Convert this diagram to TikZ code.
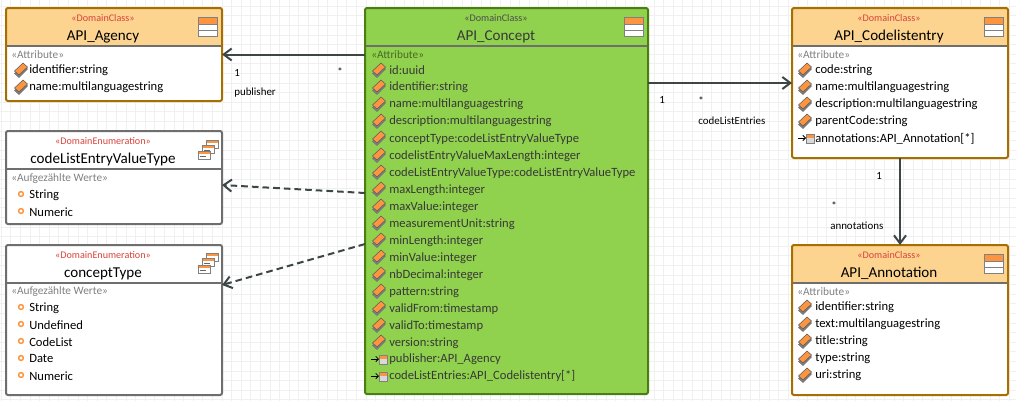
\documentclass[tikz,border=0pt]{standalone}
\usepackage{fontspec}
\setmainfont{Carlito}
\usetikzlibrary{arrows.meta,positioning}
\definecolor{headerorange}{HTML}{FCD38F}
\definecolor{conceptgreen}{HTML}{90D24E}
\definecolor{classborder}{HTML}{A66F00}
\definecolor{conceptborder}{HTML}{4A7D12}
\definecolor{enumborder}{HTML}{6E6E6E}
\definecolor{iconorange}{HTML}{FD9440}
\definecolor{stereored}{HTML}{D8433A}
\definecolor{linkgrey}{HTML}{3C4646}
\tikzset{
  umlbox/.style={rounded corners=1.5pt, line width=1.5pt, outer sep=0pt, minimum width=162pt, inner sep=0pt,
    path picture={
      \fill[#1] (path picture bounding box.north west) rectangle ([yshift=-28.5pt]path picture bounding box.north east);
      \draw[enumborder, line width=1.5pt] ([yshift=-28.5pt]path picture bounding box.north west) -- ([yshift=-28.5pt]path picture bounding box.north east);
    }},
  classbox/.style={umlbox=headerorange, draw=classborder, fill=white},
  enumbox/.style={umlbox=white, draw=enumborder, fill=white},
  conceptbox/.style={umlbox=conceptgreen, draw=conceptborder, fill=conceptgreen, minimum width=212.25pt},
  stereo/.style={font=\fontsize{7.6}{9}\selectfont, text=stereored, inner sep=0pt, yshift=-0.3pt},
  boxtitle/.style={font=\fontsize{11.3}{13}\selectfont, inner sep=0pt, yshift=-1.1pt},
  compartment/.style={font=\fontsize{8.5}{10}\selectfont, text=gray, anchor=west, inner sep=0pt, yshift=-0.3pt},
  rowtext/.style={font=\fontsize{9.45}{11}\selectfont, anchor=west, inner sep=0pt, yshift=-0.6pt},
  greenrow/.style={rowtext, text=black!78},
  linklabel/.style={font=\fontsize{8.2}{9}\selectfont, anchor=west, inner sep=0pt, yshift=-0.4pt},
  assoc/.style={linkgrey, line width=1.5pt, -{Straight Barb[length=6pt,width=9pt]}},
  depend/.style={assoc, dashed, dash pattern=on 5pt off 3pt},
  attricon/.pic={
    \filldraw[fill=gray, draw=black!55, line width=0.4pt] (-6.5,3.5) -- (2,-5) -- (6.5,-1) -- (-2,7.5) -- cycle;
    \filldraw[fill=iconorange, draw=black!65, line width=0.4pt] (-6.5,1) -- (2,-7) -- (6.5,-3) -- (-2,5) -- cycle;
  },
  enumicon/.pic={
    \draw[iconorange, line width=1.1pt, fill=white] (0,0) circle [radius=2.4];
  },
  classicon/.pic={
    \fill[white] (0,0) rectangle (19,19);
    \fill[iconorange] (0,0) rectangle (19,7);
    \draw[gray, line width=0.6pt] (0,0) rectangle (19,19);
    \draw[gray, line width=0.6pt] (0,7) -- (19,7);
    \draw[gray, line width=0.6pt] (0,13) -- (19,13);
  },
  windowicon/.pic={
    \fill[white] (0,0) rectangle (12,8.5);
    \fill[iconorange] (0,0) rectangle (12,2.5);
    \draw[gray, line width=0.6pt] (0,0) rectangle (12,8.5);
    \draw[black!60, line width=0.4pt] (2,5) -- (8,5);
  },
  linkicon/.pic={
    \draw[black, line width=0.6pt, -{Straight Barb[length=2pt,width=4pt]}] (-8,0) -- (0,0);
    \fill[white!85!black] (0,-4) rectangle (8,5);
    \fill[iconorange] (0,-4) rectangle (8,0);
    \draw[gray, line width=0.5pt] (0,-4) rectangle (8,5);
  }
}
\begin{document}
\begin{tikzpicture}[x=0.75pt, y=-0.75pt]
  \useasboundingbox (0, 0) rectangle (1016, 400);
  % grid behind the boxes
  \draw[black!6, line width=0.4pt, step=7.2pt, shift={(1, 6)}] (-10, -10) grid (1016, 400);

  % left column
  \node[classbox, minimum height=69.75pt] (agency) at (114, 54.5) {};
  \node[enumbox, minimum height=69.75pt] (valuetype) at (114, 177.5) {};
  \node[enumbox, minimum height=112.5pt] (concepttype) at (114, 320) {};

  % middle
  \node[conceptbox, minimum height=289.5pt] (concept) at (506.5, 201) {};

  % right column
  \node[classbox, minimum height=112.5pt] (codelist) at (900, 83) {};
  \node[classbox, minimum height=112.5pt] (annotation) at (900, 320) {};

  % connectors
  \coordinate (valuefrom) at (365, 193);
  \coordinate (valueto) at (222, 185);
  \coordinate (typefrom) at (365, 244);
  \coordinate (typeto) at (222, 285);
  \draw[assoc] (concept.west |- agency.east) -- (agency.east);
  \draw[depend] (valuefrom) -- (valueto);
  \draw[depend] (typefrom) -- (typeto);
  \draw[assoc] (concept.east |- codelist.west) -- (codelist.west);
  \draw[assoc] (codelist.south) -- (annotation.north);

  % connector labels
  \node[linklabel] (pubone) at (234, 72) {1};
  \node[linklabel] (pubstar) at (337, 71) {*};
  \node[linklabel] (pubname) at (234, 92) {publisher};
  \node[linklabel] (entone) at (659, 99) {1};
  \node[linklabel] (entstar) at (698, 100) {*};
  \node[linklabel] (entname) at (698, 120) {codeListEntries};
  \node[linklabel] (annone) at (876, 175) {1};
  \node[linklabel] (annstar) at (831, 205) {*};
  \node[linklabel] (annname) at (830, 225) {annotations};

  % API_Agency
  \node[stereo] (agencystereo) at (103, 18) {«DomainClass»};
  \node[boxtitle] (agencytitle) at (103, 35) {API\_Agency};
  \pic at (198, 17) {classicon};
  \node[compartment] (agencyattr) at (11, 54) {«Attribute»};
  \pic at (21, 70) {attricon};
  \node[rowtext] (agencyid) at (29, 69) {identifier:string};
  \pic at (21, 87) {attricon};
  \node[rowtext] (agencyname) at (29, 86) {name:multilanguagestring};

  % codeListEntryValueType
  \node[stereo] (valuestereo) at (103, 141) {«DomainEnumeration»};
  \node[boxtitle] (valuetitle) at (103, 158) {codeListEntryValueType};
  \pic at (206, 140) {windowicon};
  \pic at (202, 145) {windowicon};
  \pic at (198, 151) {windowicon};
  \node[compartment] (valueattr) at (11, 178) {«Aufgezählte Werte»};
  \pic at (21, 194) {enumicon};
  \node[rowtext] (valuestring) at (29, 194) {String};
  \pic at (21, 211) {enumicon};
  \node[rowtext] (valuenumeric) at (29, 211) {Numeric};

  % conceptType
  \node[stereo] (typestereo) at (103, 255) {«DomainEnumeration»};
  \node[boxtitle] (typetitle) at (103, 272) {conceptType};
  \pic at (206, 253) {windowicon};
  \pic at (202, 258) {windowicon};
  \pic at (198, 265) {windowicon};
  \node[compartment] (typeattr) at (11, 291) {«Aufgezählte Werte»};
  \pic at (21, 307) {enumicon};
  \node[rowtext] (typestring) at (29, 307) {String};
  \pic at (21, 324) {enumicon};
  \node[rowtext] (typeundefined) at (29, 324) {Undefined};
  \pic at (21, 341) {enumicon};
  \node[rowtext] (typecodelist) at (29, 341) {CodeList};
  \pic at (21, 358) {enumicon};
  \node[rowtext] (typedate) at (29, 358) {Date};
  \pic at (21, 375) {enumicon};
  \node[rowtext] (typenumeric) at (29, 375) {Numeric};

  % API_Concept
  \node[stereo, text=black!70] (conceptstereo) at (496, 18) {«DomainClass»};
  \node[boxtitle, text=black!78] (concepttitle) at (496, 35) {API\_Concept};
  \pic at (624, 17) {classicon};
  \node[compartment, text=black!50!conceptgreen] (conceptattr) at (371, 54) {«Attribute»};
  \pic at (379, 70) {attricon};
  \node[greenrow] (cid) at (389, 69) {id:uuid};
  \pic at (379, 87) {attricon};
  \node[greenrow] (cidentifier) at (389, 86) {identifier:string};
  \pic at (379, 104) {attricon};
  \node[greenrow] (cname) at (389, 103) {name:multilanguagestring};
  \pic at (379, 121) {attricon};
  \node[greenrow] (cdescription) at (389, 120.5) {description:multilanguagestring};
  \pic at (379, 138) {attricon};
  \node[greenrow] (cconcepttype) at (389, 138) {conceptType:codeListEntryValueType};
  \pic at (379, 155) {attricon};
  \node[greenrow] (cmaxentry) at (389, 155) {codelistEntryValueMaxLength:integer};
  \pic at (379, 172) {attricon};
  \node[greenrow] (centrytype) at (389, 172) {codeListEntryValueType:codeListEntryValueType};
  \pic at (379, 189) {attricon};
  \node[greenrow] (cmaxlength) at (389, 189) {maxLength:integer};
  \pic at (379, 206) {attricon};
  \node[greenrow] (cmaxvalue) at (389, 206) {maxValue:integer};
  \pic at (379, 223) {attricon};
  \node[greenrow] (cunit) at (389, 223) {measurementUnit:string};
  \pic at (379, 240) {attricon};
  \node[greenrow] (cminlength) at (389, 240) {minLength:integer};
  \pic at (379, 257) {attricon};
  \node[greenrow] (cminvalue) at (389, 257) {minValue:integer};
  \pic at (379, 274) {attricon};
  \node[greenrow] (cdecimal) at (389, 274) {nbDecimal:integer};
  \pic at (379, 291) {attricon};
  \node[greenrow] (cpattern) at (389, 291) {pattern:string};
  \pic at (379, 308) {attricon};
  \node[greenrow] (cfrom) at (389, 308) {validFrom:timestamp};
  \pic at (379, 325) {attricon};
  \node[greenrow] (cto) at (389, 325) {validTo:timestamp};
  \pic at (379, 342) {attricon};
  \node[greenrow] (cversion) at (389, 342) {version:string};
  \pic at (379, 359) {linkicon};
  \node[greenrow] (cpublisher) at (389, 358.5) {publisher:API\_Agency};
  \pic at (379, 376) {linkicon};
  \node[greenrow] (centries) at (389, 375.5) {codeListEntries:API\_Codelistentry[*]};

  % API_Codelistentry
  \node[stereo] (liststereo) at (889, 18) {«DomainClass»};
  \node[boxtitle] (listtitle) at (889, 35) {API\_Codelistentry};
  \pic at (984, 17) {classicon};
  \node[compartment] (listattr) at (797, 54) {«Attribute»};
  \pic at (805, 70) {attricon};
  \node[rowtext] (listcode) at (815, 69) {code:string};
  \pic at (805, 87) {attricon};
  \node[rowtext] (listname) at (815, 86) {name:multilanguagestring};
  \pic at (805, 104) {attricon};
  \node[rowtext] (listdescription) at (815, 103) {description:multilanguagestring};
  \pic at (805, 121) {attricon};
  \node[rowtext] (listparent) at (815, 120.5) {parentCode:string};
  \pic at (806, 138) {linkicon};
  \node[rowtext] (listannotations) at (815, 138) {annotations:API\_Annotation[*]};

  % API_Annotation
  \node[stereo] (annstereo) at (889, 255) {«DomainClass»};
  \node[boxtitle] (anntitle) at (889, 272) {API\_Annotation};
  \pic at (984, 254) {classicon};
  \node[compartment] (annattr) at (797, 291) {«Attribute»};
  \pic at (805, 307) {attricon};
  \node[rowtext] (annid) at (815, 306) {identifier:string};
  \pic at (805, 324) {attricon};
  \node[rowtext] (anntext) at (815, 323) {text:multilanguagestring};
  \pic at (805, 341) {attricon};
  \node[rowtext] (anntitlerow) at (815, 340) {title:string};
  \pic at (805, 358) {attricon};
  \node[rowtext] (anntype) at (815, 357) {type:string};
  \pic at (805, 375) {attricon};
  \node[rowtext] (annuri) at (815, 374) {uri:string};
\end{tikzpicture}
\end{document}
